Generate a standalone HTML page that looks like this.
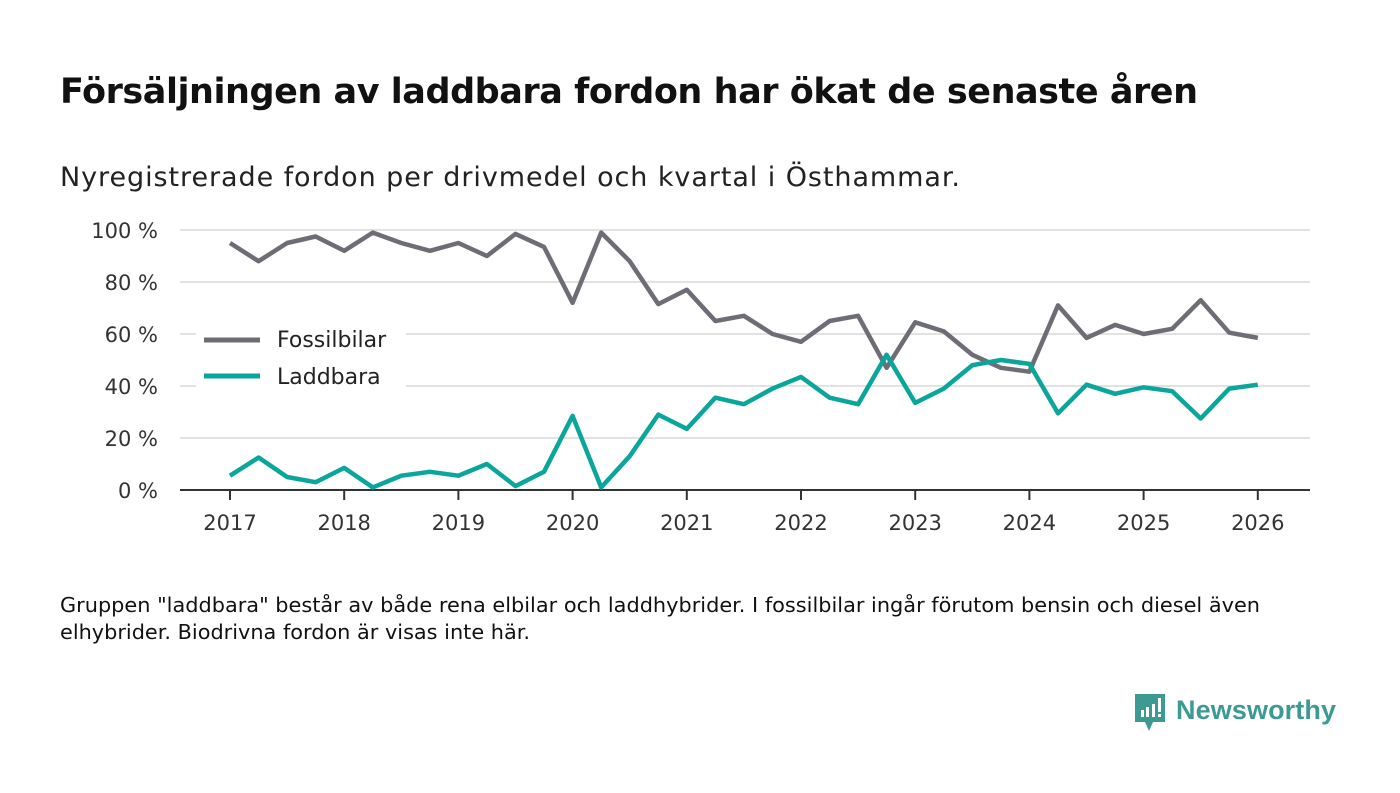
<!DOCTYPE html>
<html><head><meta charset="utf-8"><style>
body{margin:0;width:1400px;height:793px;background:#fff;font-family:"DejaVu Sans","Liberation Sans",sans-serif;overflow:hidden}
svg{position:absolute;left:0;top:0}
</style></head><body>
<svg width="1400" height="793">
<text x="60" y="103" font-size="35" font-weight="bold" fill="#111" textLength="1138">Försäljningen av laddbara fordon har ökat de senaste åren</text>
<text x="60" y="186" font-size="27" fill="#222" textLength="900">Nyregistrerade fordon per drivmedel och kvartal i Östhammar.</text>
<g id="grid"></g><g id="xt"></g><g id="lines"></g>
<g>
<rect x="196" y="322" width="210" height="78" fill="#fff"/>
<line x1="204" y1="340" x2="260" y2="340" stroke="#6e6d75" stroke-width="5"/>
<text x="277" y="347" font-size="22" fill="#222">Fossilbilar</text>
<line x1="204" y1="376" x2="260" y2="376" stroke="#0aa69b" stroke-width="5"/>
<text x="277" y="384" font-size="22" fill="#222">Laddbara</text>
</g>
<text x="60" y="612" font-size="20" fill="#111" textLength="1200" lengthAdjust="spacingAndGlyphs">Gruppen "laddbara" består av både rena elbilar och laddhybrider. I fossilbilar ingår förutom bensin och diesel även</text>
<text x="60" y="639" font-size="20" fill="#111" textLength="470" lengthAdjust="spacingAndGlyphs">elhybrider. Biodrivna fordon är visas inte här.</text>
<g>
<path d="M1135 694 h30 v28 h-12 l-4 9 l-4 -9 h-10 z" fill="#3d9a93"/>
<rect x="1141" y="710" width="3" height="7" fill="#fff"/><rect x="1146" y="707" width="3" height="10" fill="#fff"/><rect x="1152" y="704" width="3" height="13" fill="#fff"/><rect x="1158" y="698" width="3" height="14" fill="#fff"/><rect x="1158" y="714" width="3" height="3" fill="#fff"/>
<text x="1176" y="719" font-size="27" fill="#3d9a93" font-family="Liberation Sans, sans-serif" font-weight="bold" textLength="160">Newsworthy</text>
</g>
</svg>
<script>
const years=[2017,2018,2019,2020,2021,2022,2023,2024,2025,2026];
const yTicks=[0,20,40,60,80,100];
const fossil=[95,88,95,97.5,92,99,95,92,95,90,98.5,93.5,72,99,88,71.5,77,65,67,60,57,65,67,47,64.5,61,52,47,45.5,71,58.5,63.5,60,62,73,60.5,58.5];
const laddbara=[5.5,12.5,5,3,8.5,1,5.5,7,5.5,10,1.5,7,28.5,1,13,29,23.5,35.5,33,39,43.5,35.5,33,52,33.5,39,48,50,48.5,29.5,40.5,37,39.5,38,27.5,39,40.5];
const NS="http://www.w3.org/2000/svg";
const X=t=>230+(t-2017)*114.2;
const Y=v=>490-v*2.6;
function mk(tag,at,parent){const e=document.createElementNS(NS,tag);for(const k in at)e.setAttribute(k,at[k]);document.getElementById(parent).appendChild(e);return e;}
yTicks.forEach(v=>{
 if(v>0){const l=mk('line',{x1:180,x2:1310,y1:Y(v),y2:Y(v),stroke:'#d9d9d9','stroke-width':1.5},'grid');
 
 }
 const t=mk('text',{x:158,y:Y(v)+8,'font-size':21,fill:'#333','text-anchor':'end'},'grid');
 t.textContent=v+' %';
 
 
});
const ax=mk('line',{x1:180,x2:1310,y1:490,y2:490,stroke:'#333','stroke-width':2},'grid');


years.forEach(y=>{
 mk('line',{x1:X(y),x2:X(y),y1:490,y2:500,stroke:'#333','stroke-width':2},'xt');
 const t=mk('text',{x:X(y),y:530,'font-size':21,fill:'#333','text-anchor':'middle'},'xt');
 t.textContent=y;
 
 
});
function line(d,c,name){
 const p=d.map((v,i)=>X(2017+i/4).toFixed(1)+','+Y(v).toFixed(1)).join(' ');
 const e=mk('polyline',{points:p,fill:'none',stroke:c,'stroke-width':4.5,'stroke-linejoin':'round'},'lines');
 
 
}
line(fossil,'#6e6d75','fossilbilar-line');
line(laddbara,'#0aa69b','laddbara-line');
</script>
</body></html>
